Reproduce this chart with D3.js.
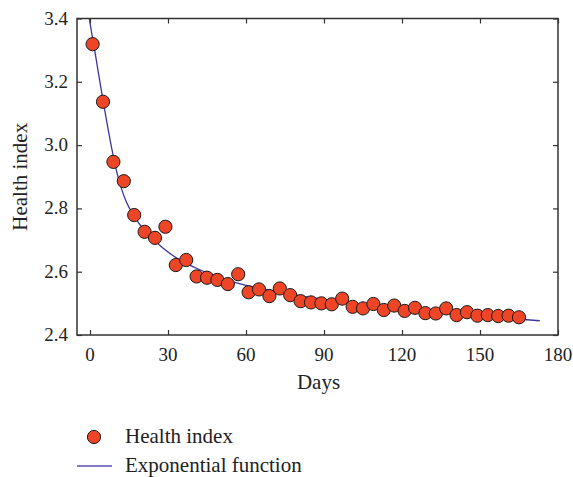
<!DOCTYPE html>
<html><head><meta charset="utf-8">
<script src="https://cdn.jsdelivr.net/npm/d3@7"></script>
<style>body{margin:0;background:#fff;} svg{display:block;} text{font-family:"Liberation Serif","Times New Roman",serif;fill:#222;}</style>
</head><body>
<svg id="c" width="573" height="477"></svg>
<script>
// Observed health index (every 4 days)
const days = [1,5,9,13,17,21,25,29,33,37,41,45,49,53,57,61,65,69,73,77,81,85,89,93,97,101,105,109,113,117,121,125,129,133,137,141,145,149,153,157,161,165];
const healthIndex = [3.319,3.137,2.947,2.886,2.779,2.726,2.707,2.742,2.621,2.637,2.585,2.581,2.574,2.561,2.592,2.535,2.544,2.523,2.547,2.526,2.507,2.503,2.500,2.497,2.515,2.489,2.484,2.498,2.479,2.493,2.476,2.486,2.469,2.468,2.484,2.463,2.472,2.461,2.463,2.460,2.461,2.456];
// Fitted exponential curve
const fitDays = [-0.3,2,4,6,8,10,12,14,17,21,25,30,35,42,51,60,70,82,95,110,127,150,173];
const fitValues = [3.40,3.29,3.19,3.095,3.005,2.925,2.865,2.82,2.775,2.73,2.697,2.662,2.635,2.607,2.578,2.557,2.54,2.522,2.507,2.492,2.477,2.46,2.445];
const xTicks = [0,30,60,90,120,150,180];
const yTicks = [2.4,2.6,2.8,3.0,3.2,3.4];

const svg = d3.select("#c");
const L = 77, R = 558, T = 18.5, B = 335;
const x = d3.scaleLinear().domain([-5,180]).range([L,R]);
const y = d3.scaleLinear().domain([2.4,3.4]).range([B,T]);
const fs = 19, fsT = 21;

svg.append("clipPath").attr("id","clip").append("rect").attr("x",L).attr("y",T).attr("width",R-L).attr("height",B-T);

// axes with inward ticks
const frame = svg.append("g");
const ax = (g, axis) => { g.call(axis); g.select(".domain").remove(); g.selectAll("line").attr("stroke","#333").attr("stroke-width",1.2); g.selectAll("text").remove(); };
frame.append("g").attr("transform",`translate(0,${B})`).call(g=>ax(g,d3.axisBottom(x).tickValues(xTicks).tickSizeInner(-5).tickSizeOuter(0)));
frame.append("g").attr("transform",`translate(0,${T})`).call(g=>ax(g,d3.axisTop(x).tickValues(xTicks).tickSizeInner(-5).tickSizeOuter(0)));
frame.append("g").attr("transform",`translate(${L},0)`).call(g=>ax(g,d3.axisLeft(y).tickValues(yTicks).tickSizeInner(-5).tickSizeOuter(0)));
frame.append("g").attr("transform",`translate(${R},0)`).call(g=>ax(g,d3.axisRight(y).tickValues(yTicks).tickSizeInner(-5).tickSizeOuter(0)));
frame.append("rect").attr("x",L).attr("y",T).attr("width",R-L).attr("height",B-T).attr("fill","none").attr("stroke","#333").attr("stroke-width",1.5);

// tick labels
svg.append("g").selectAll("text").data(xTicks).join("text")
  .attr("x",d=>x(d)).attr("y",B+26).attr("text-anchor","middle").attr("font-size",fs).text(d=>d);
svg.append("g").selectAll("text").data(yTicks).join("text")
  .attr("x",L-9).attr("y",d=>y(d)+6).attr("text-anchor","end").attr("font-size",fs).text(d=>d.toFixed(1));

svg.append("text").attr("x",(L+R)/2+1).attr("y",389).attr("text-anchor","middle").attr("font-size",fsT).text("Days");
svg.append("text").attr("transform",`translate(27,${(T+B)/2}) rotate(-90)`).attr("text-anchor","middle").attr("font-size",fsT).text("Health index");

// fit curve
const line = d3.line().x((d,i)=>x(fitDays[i])).y(d=>y(d)).curve(d3.curveMonotoneX);
svg.append("path").attr("clip-path","url(#clip)").attr("d",line(fitValues)).attr("fill","none").attr("stroke","#3b35a0").attr("stroke-width",1.3);

// points
svg.append("g").selectAll("circle").data(healthIndex).join("circle")
  .attr("cx",(d,i)=>x(days[i])).attr("cy",d=>y(d)).attr("r",6.6)
  .attr("fill","#ef4527").attr("stroke","#1a1a1a").attr("stroke-width",1);

// legend
svg.append("circle").attr("cx",94).attr("cy",437).attr("r",6.6).attr("fill","#ef4527").attr("stroke","#1a1a1a").attr("stroke-width",1);
svg.append("text").attr("x",125).attr("y",443).attr("font-size",fsT).text("Health index");
svg.append("line").attr("x1",77).attr("x2",112).attr("y1",466).attr("y2",466).attr("stroke","#5a50b4").attr("stroke-width",1.3);
svg.append("text").attr("x",125).attr("y",472).attr("font-size",fsT).text("Exponential function");
</script>
</body></html>
